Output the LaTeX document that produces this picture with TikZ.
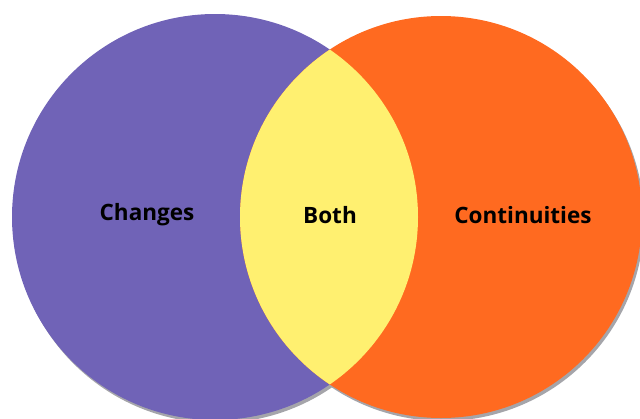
\documentclass[tikz,border=0pt]{standalone}
\usepackage{fontspec}
\setmainfont{Open Sans}
\definecolor{changescol}{RGB}{112,99,183}
\definecolor{contcol}{RGB}{255,106,32}
\definecolor{bothcol}{RGB}{255,240,112}
\definecolor{shadowcol}{RGB}{165,165,170}
\begin{document}
\begin{tikzpicture}[x=1pt,y=-1pt,
  setcircle/.style={circle,inner sep=0pt,minimum size=#1},
  label/.style={font=\fontsize{22.5}{26}\selectfont\bfseries,text=black}]
  \useasboundingbox (0,0) rectangle (640,418);
  % soft drop shadows along the lower edges
  \fill[shadowcol] (217,220) circle[radius=203];
  \fill[shadowcol] (443,220) circle[radius=201];
  % the two sets
  \node[setcircle=406pt,fill=changescol] (changes) at (215,217) {};
  \node[setcircle=402pt,fill=contcol] (continuities) at (441,217) {};
  % their overlap
  \begin{scope}
    \clip (215,217) circle[radius=203];
    \fill[bothcol] (441,217) circle[radius=201];
  \end{scope}
  % labels
  \node[label] (tchanges) at (147,215) {Changes};
  \node[label] (tboth) at (330,215) {Both};
  \node[label] (tcont) at (523,215) {Continuities};
\end{tikzpicture}
\end{document}
